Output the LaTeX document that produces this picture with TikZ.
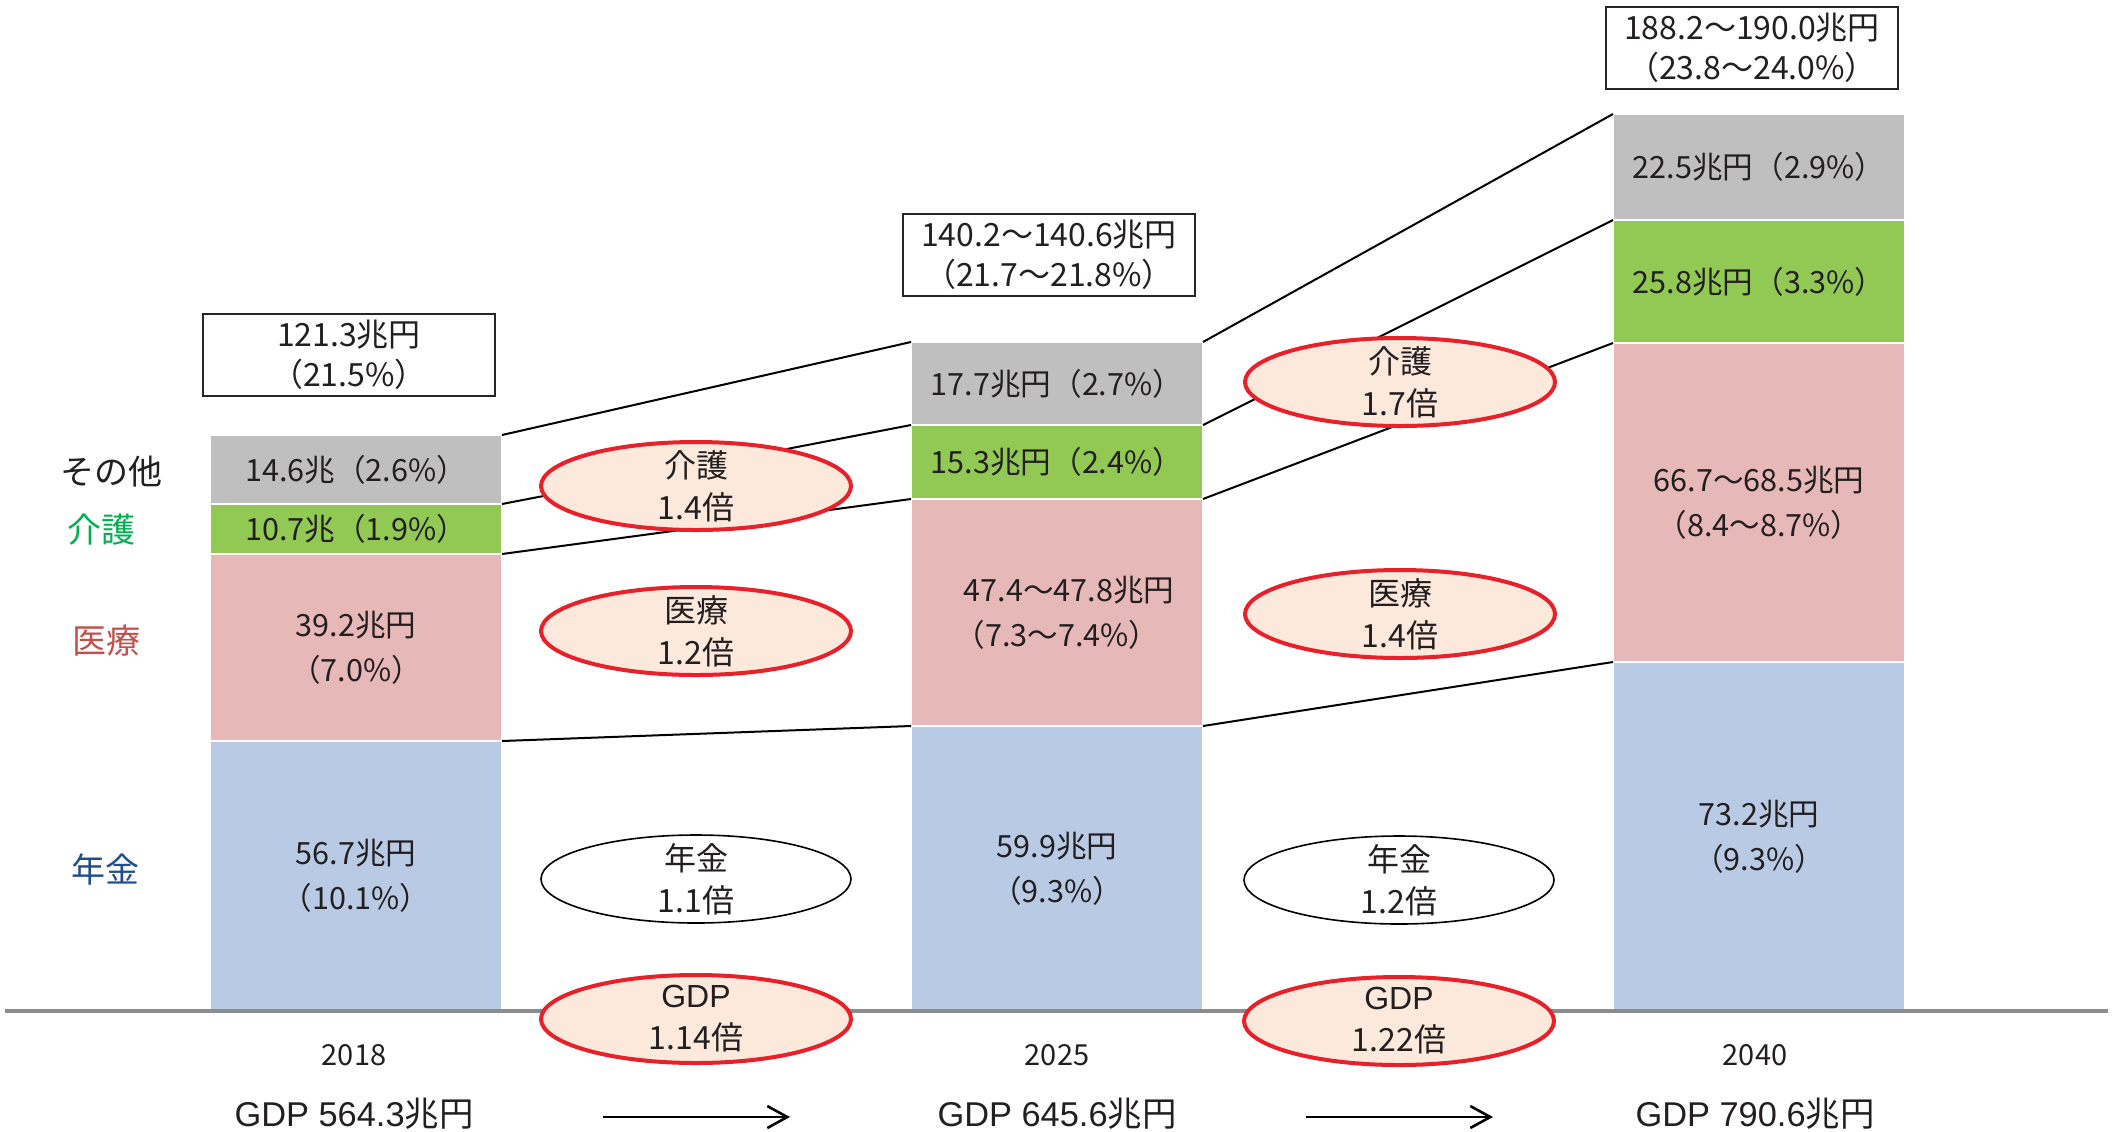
\documentclass[tikz,border=0pt]{standalone}
\usepackage{fontspec}
\setmainfont{Noto Sans CJK JP}
\newfontfamily\arialf{Liberation Sans}
\usetikzlibrary{shapes.geometric,arrows.meta}
\definecolor{segGray}{HTML}{BFBFBF}
\definecolor{segGreen}{HTML}{92C955}
\definecolor{segPink}{HTML}{E6B8B7}
\definecolor{segBlue}{HTML}{B9CBE4}
\definecolor{ellRed}{HTML}{E8202A}
\definecolor{ellFill}{HTML}{FCE9DC}
\definecolor{txt}{HTML}{231F20}
\definecolor{baseGray}{HTML}{8C8C8C}
\definecolor{lblGreen}{HTML}{00B050}
\definecolor{lblRed}{HTML}{C0504D}
\definecolor{lblBlue}{HTML}{1F4E8C}
\tikzset{
  seg/.style={draw=white, line width=0.8pt, inner sep=0pt, outer sep=0pt,
    anchor=north west, minimum width=146pt, align=center, text=txt,
    font=\fontsize{15.3}{22.5}\selectfont},
  totbox/.style={draw=black!85, line width=0.8pt, fill=white, inner sep=0pt, outer sep=0pt,
    anchor=north west, minimum width=146pt, minimum height=41pt, align=center, text=txt,
    font=\fontsize{16}{20}\selectfont},
  conn/.style={draw=black, line width=1pt},
  elltext/.style={align=center, text=txt, font=\fontsize{16}{21}\selectfont, inner sep=0pt},
  redell/.style={ellipse, draw=ellRed, line width=2pt, fill=ellFill,
    minimum width=155pt, minimum height=44pt, inner sep=0pt},
  blkell/.style={ellipse, draw=black, line width=0.8pt, fill=white,
    minimum width=155pt, minimum height=44pt, inner sep=0pt},
  catlbl/.style={font=\fontsize{17}{20}\selectfont, inner sep=0pt},
  yearlbl/.style={font=\fontsize{14.5}{18}\selectfont, text=txt, inner sep=0pt},
  gdplbl/.style={font=\fontsize{17.2}{20}\selectfont, text=txt, inner sep=0pt},
  growarrow/.style={line width=1.3pt, -{Straight Barb[length=10pt,width=11pt,line width=1.3pt]}}
}
\begin{document}
\begin{tikzpicture}[x=0.5pt,y=-0.5pt]
\useasboundingbox (0,0) rectangle (2120,1131);
\fill[white] (0,0) rectangle (2120,1131);

% ---- bar 2018
\node[seg, fill=segGray,  minimum height=34.5pt] (b1g) at (210,435) {14.6兆（2.6\%）};
\node[seg, fill=segGreen, minimum height=25pt]   (b1n) at (210,504) {10.7兆（1.9\%）};
\node[seg, fill=segPink,  minimum height=93.5pt] (b1p) at (210,554) {39.2兆円\\（7.0\%）};
\node[seg, fill=segBlue,  minimum height=135pt]  (b1b) at (210,741) {56.7兆円\\（10.1\%）};

% ---- bar 2025
\node[seg, fill=segGray,  minimum height=41.5pt]  (b2g) at (911,342) {17.7兆円（2.7\%）};
\node[seg, fill=segGreen, minimum height=37pt]    (b2n) at (911,425) {15.3兆円（2.4\%）};
\node[seg, fill=segPink,  minimum height=113.5pt] (b2p) at (911,499) {\hspace*{12pt}47.4～47.8兆円\\（7.3～7.4\%）};
\node[seg, fill=segBlue,  minimum height=142.5pt] (b2b) at (911,726) {59.9兆円\\（9.3\%）};

% ---- bar 2040
\node[seg, fill=segGray,  minimum height=53pt]    (b3g) at (1613,114) {22.5兆円（2.9\%）};
\node[seg, fill=segGreen, minimum height=61.5pt]  (b3n) at (1613,220) {25.8兆円（3.3\%）};
\node[seg, fill=segPink,  minimum height=159.5pt] (b3p) at (1613,343) {66.7～68.5兆円\\（8.4～8.7\%）};
\node[seg, fill=segBlue,  minimum height=174.5pt] (b3b) at (1613,662) {73.2兆円\\（9.3\%）};

% ---- total boxes
\node[totbox] (t1) at (203,314) {121.3兆円\\（21.5\%）};
\node[totbox] (t2) at (903,214) {140.2～140.6兆円\\（21.7～21.8\%）};
\node[totbox] (t3) at (1606,7)  {188.2～190.0兆円\\（23.8～24.0\%）};

% ---- connectors
\draw[conn] (b1g.north east) -- (b2g.north west);
\draw[conn] (b1n.north east) -- (b2n.north west);
\draw[conn] (b1p.north east) -- (b2p.north west);
\draw[conn] (b1b.north east) -- (b2b.north west);
\draw[conn] (b2g.north east) -- (b3g.north west);
\draw[conn] (b2n.north east) -- (b3n.north west);
\draw[conn] (b2p.north east) -- (b3p.north west);
\draw[conn] (b2b.north east) -- (b3b.north west);

% ---- baseline
\coordinate (bl0) at (5,1011);
\coordinate (bl1) at (2108,1011);
\draw[baseGray, line width=1.6pt] (bl0) -- (bl1);

% ---- growth ellipses
\node[redell, label={[elltext]center:介護\\1.4倍}] (e1) at (696,486) {};
\node[redell, label={[elltext]center:医療\\1.2倍}] (e2) at (696,631) {};
\node[blkell, label={[elltext]center:年金\\1.1倍}] (e3) at (696,879) {};
\node[redell, label={[elltext]center:{{\arialf GDP}\\1.14倍}}] (e4) at (696,1019) {};
\node[redell, label={[elltext]center:介護\\1.7倍}] (e5) at (1400,382) {};
\node[redell, label={[elltext]center:医療\\1.4倍}] (e6) at (1400,614) {};
\node[blkell, label={[elltext]center:年金\\1.2倍}] (e7) at (1399,880) {};
\node[redell, label={[elltext]center:{{\arialf GDP}\\1.22倍}}] (e8) at (1399,1021) {};

% ---- category labels
\node[catlbl, text=txt]      (c1) at (112,472) {その他};
\node[catlbl, text=lblGreen] (c2) at (101,530) {介護};
\node[catlbl, text=lblRed]   (c3) at (106,641) {医療};
\node[catlbl, text=lblBlue]  (c4) at (105,869) {年金};

% ---- years and GDP
\node[yearlbl] (y1) at (354,1055) {2018};
\node[yearlbl] (y2) at (1057,1055) {2025};
\node[yearlbl] (y3) at (1755,1055) {2040};
\node[gdplbl] (g1) at (354,1114) {{\arialf GDP 564.3}兆円};
\node[gdplbl] (g2) at (1057,1114) {{\arialf GDP 645.6}兆円};
\node[gdplbl] (g3) at (1755,1114) {{\arialf GDP 790.6}兆円};

% ---- arrows
\coordinate (a1s) at (603,1117);
\coordinate (a1e) at (790,1117);
\coordinate (a2s) at (1306,1117);
\coordinate (a2e) at (1493,1117);
\draw[growarrow] (a1s) -- (a1e);
\draw[growarrow] (a2s) -- (a2e);
\end{tikzpicture}
\end{document}
